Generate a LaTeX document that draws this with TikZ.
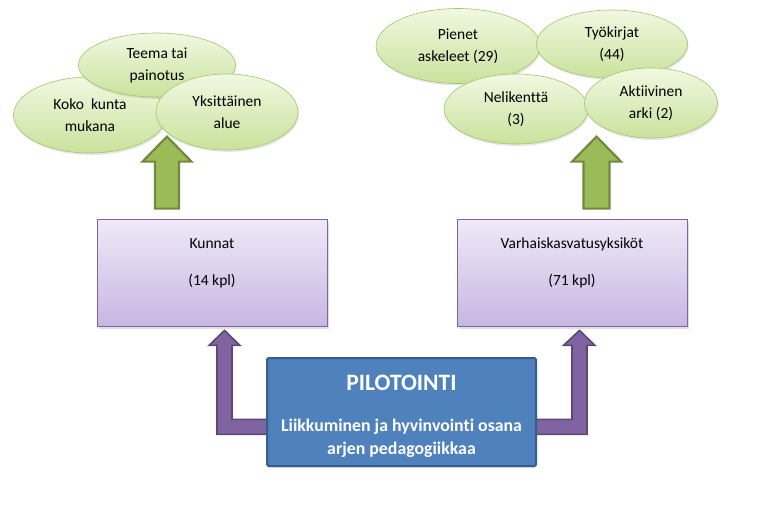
\documentclass[tikz,border=0pt]{standalone}
\usepackage{fontspec}
\setmainfont{Carlito}[RawFeature={-liga}]
\usetikzlibrary{shapes.geometric,shadows,calc}
\definecolor{elltop}{HTML}{F1F8E2}
\definecolor{ellbot}{HTML}{C9E29C}
\definecolor{ellline}{HTML}{A5C46A}
\definecolor{boxtop}{HTML}{EFE9F7}
\definecolor{boxbot}{HTML}{C8B6E2}
\definecolor{boxline}{HTML}{8064A2}
\definecolor{vihrea}{HTML}{9BBB59}
\definecolor{vihrearaja}{HTML}{71893F}
\definecolor{lila}{HTML}{8064A2}
\definecolor{lilaraja}{HTML}{5C4776}
\definecolor{sininen}{HTML}{4F81BD}
\definecolor{sininenraja}{HTML}{385D8A}

\begin{document}
\begin{tikzpicture}[x=1pt, y=-1pt, semithick]
\tikzstyle{every node}=[font=\fontsize{15.5}{22}\selectfont]
\tikzstyle{idea}=[ellipse, draw=ellline, top color=elltop, bottom color=ellbot, align=center, inner sep=0pt, drop shadow={shadow xshift=1pt, shadow yshift=-2pt, opacity=0.2}]
\tikzstyle{group}=[rectangle, draw=boxline, thick, top color=boxtop, bottom color=boxbot, minimum width=230, minimum height=107, align=center, drop shadow={shadow xshift=1.5pt, shadow yshift=-2.5pt, opacity=0.25}]
\tikzstyle{ylosnuoli}=[draw=vihrearaja, fill=vihrea, line width=2.2pt, line join=miter]
\tikzstyle{lilanuoli}=[draw=lilaraja, fill=lila, line width=1.6pt, line join=miter]
\useasboundingbox (0,0) rectangle (758,506);

\node[idea, minimum width=153, minimum height=76] (Koko)   at (90,115)  {Koko~ kunta\\mukana};
\node[idea, minimum width=157, minimum height=64] (Teema)  at (157,65)  {Teema tai\\painotus};
\node[idea, minimum width=142, minimum height=76] (Yks)    at (227,112) {Yksittäinen\\alue};

\node[idea, minimum width=164, minimum height=75] (Pienet) at (458,46)  {Pienet\\askeleet (29)};
\node[idea, minimum width=151, minimum height=68] (Tyo)    at (612,44)  {Työkirjat\\(44)};
\node[idea, minimum width=144, minimum height=70] (Neli)   at (516,109) {Nelikenttä\\(3)};
\node[idea, minimum width=133, minimum height=70] (Akt)    at (651,103) {Aktiivinen\\arki (2)};

\node[group, text height=48pt, text depth=22pt] (Kunnat) at (212,272.5) {Kunnat\\[15pt](14 kpl)};
\node[group, text height=48pt, text depth=22pt] (Varh)   at (572,272.5) {Varhaiskasvatusyksiköt\\[15pt](71 kpl)};

\coordinate (gtip1) at ($(Kunnat.north)+(-45,-82)$);
\coordinate (gtip2) at ($(Varh.north)+(24.5,-82)$);
\coordinate (ltip1) at ($(Kunnat.south)+(12.5,4)$);
\coordinate (ltip2) at ($(Varh.south)+(7.5,4)$);

\draw[ylosnuoli] (gtip1) -- ++(24.5,25) -- ++(-12.5,0) -- ++(0,47) -- ++(-24,0) -- ++(0,-47) -- ++(-12.5,0) -- cycle;
\draw[ylosnuoli] (gtip2) -- ++(24.5,25) -- ++(-11.5,0) -- ++(0,47) -- ++(-26,0) -- ++(0,-47) -- ++(-11.5,0) -- cycle;

\draw[lilanuoli] (ltip1) -- ++(15.5,15) -- ++(-8,0) -- ++(0,74) -- ++(38,0) -- ++(0,15) -- ++(-53,0) -- ++(0,-89) -- ++(-8,0) -- cycle;
\draw[lilanuoli] (ltip2) -- ++(15.5,15) -- ++(-8,0) -- ++(0,89) -- ++(-54.5,0) -- ++(0,-15) -- ++(39.5,0) -- ++(0,-74) -- ++(-8.5,0) -- cycle;

\node[draw=sininenraja, line width=2pt, fill=sininen, rounded corners=1.5pt, minimum width=269, minimum height=108, align=center, text=white, text height=86pt, text depth=2pt, font=\bfseries\fontsize{17.8}{23}\selectfont, drop shadow={shadow xshift=1pt, shadow yshift=-2pt, opacity=0.2}] (Pilot) at (401.5,412)
  {{\fontsize{23.5}{26}\selectfont PILOTOINTI}\\[18pt]Liikkuminen ja hyvinvointi osana\\arjen pedagogiikkaa};
\end{tikzpicture}
\end{document}
